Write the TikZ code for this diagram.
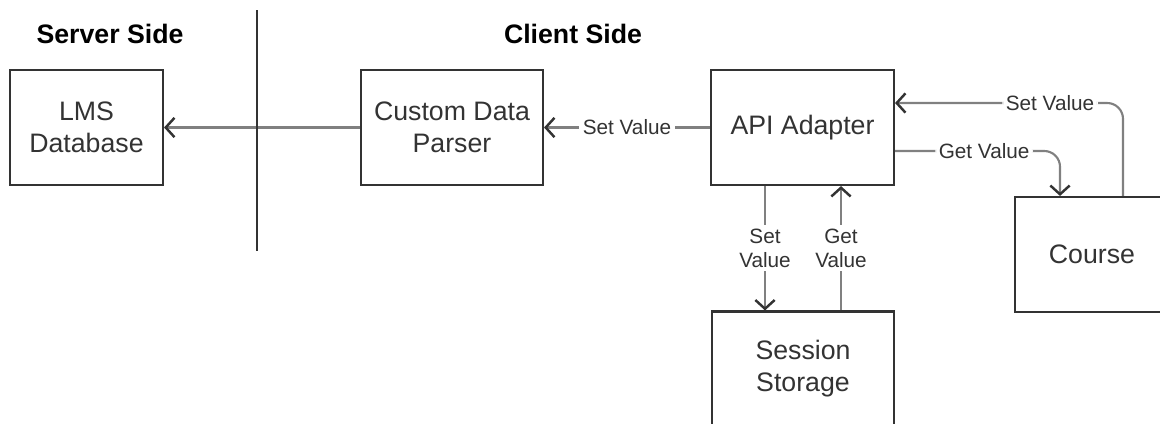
\documentclass[tikz,border=0pt]{standalone}
\usepackage{fontspec}
\setmainfont{Liberation Sans}
\usetikzlibrary{arrows.meta, positioning, calc}
\definecolor{boxline}{HTML}{333333}
\definecolor{flowline}{HTML}{808080}
\definecolor{textgray}{HTML}{333333}

\begin{document}
\begin{tikzpicture}[x=0.02cm, y=-0.02cm,
    block/.style={draw=boxline, line width=1.2pt, minimum height=2.3cm,
                  align=center, text=textgray,
                  font=\fontsize{15.2}{18.2}\selectfont},
    flow/.style={draw=flowline, line width=1.2pt,
                 -{Straight Barb[length=5pt, width=11pt, line width=1.4pt, color=boxline]}},
    flowlabel/.style={fill=white, inner sep=2pt, align=center, text=textgray,
                      font=\fontsize{11.8}{13.8}\selectfont},
    sidetitle/.style={font=\fontsize{15.2}{18}\selectfont\bfseries}]
  \useasboundingbox (0,0) rectangle (1160,423);
  \clip (0,0) rectangle (1160,423);

  % Titles and split line
  \node[sidetitle] (server) at (110,34) {Server Side};
  \node[sidetitle] (client) at (573,34) {Client Side};
  \coordinate (splittop) at (257,10);
  \coordinate (splitbot) at (257,251);

  % Boxes
  \node[block, minimum width=3.06cm] (lms) at (86.5,127.5) {LMS\\Database};
  \node[block, minimum width=3.64cm] (parser) at (452,127.5) {Custom Data\\Parser};
  \node[block, minimum width=3.66cm] (api) at (802.5,127.5) {API Adapter};
  \node[block, minimum width=3.64cm] (session) at (803,369) {Session\\Storage};
  \node[block, minimum width=3.08cm] (course) at (1092,254.5) {Course};

  % Connectors
  \draw[flow] (parser) -- (lms);
  \draw[boxline, line width=1.6pt] (splittop) -- (splitbot);
  \draw[flow] (api) -- node[flowlabel] {Set Value} (parser);

  \draw[flow] ([xshift=-0.75cm]api.south) -- ([xshift=-0.75cm]api.south |- session.north)
    node[flowlabel, midway] {Set\\Value};
  \draw[flow] ([xshift=0.77cm]api.south |- session.north) -- ([xshift=0.77cm]api.south)
    node[flowlabel, midway] {Get\\Value};

  \draw[flow, rounded corners=9pt] ([xshift=0.62cm]course.north) |- ([yshift=0.49cm]api.east)
    node[flowlabel, pos=0.66] {Set Value};
  \draw[flow, rounded corners=9pt] ([yshift=-0.47cm]api.east) -| ([xshift=-0.64cm]course.north)
    node[flowlabel, pos=0.27] {Get Value};
\end{tikzpicture}
\end{document}
